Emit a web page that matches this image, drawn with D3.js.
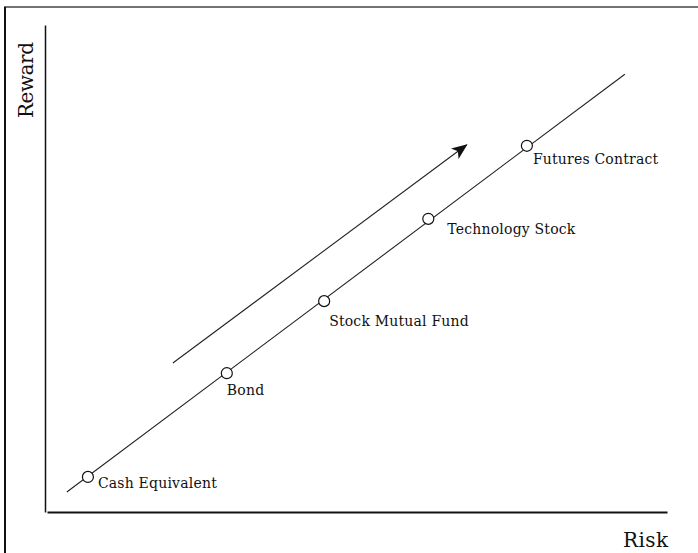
<!DOCTYPE html>
<html>
<head>
<meta charset="utf-8">
<script src="https://cdn.jsdelivr.net/npm/d3@7"></script>
<style>
  body { margin: 0; background: #fff; }
  svg { display: block; }
  text { font-family: "DejaVu Serif", "Liberation Serif", serif; fill: #111; }
</style>
</head>
<body>
<div id="chart"></div>
<script>
// risk / reward values on a 0-100 scale
let assets = ["Cash Equivalent", "Bond", "Stock Mutual Fund", "Technology Stock", "Futures Contract"];
let riskValues = [6.6, 29.0, 44.7, 61.5, 77.4];
let rewardValues = [7.2, 28.5, 43.3, 60.2, 75.2];

// the trend line and the arrow beside it
let lineRisk = [3.2, 93.2];
let lineReward = [4.1, 89.9];
let arrowRisk = [20.3, 67.7];
let arrowReward = [30.6, 75.4];

let axisLabels = ["Risk", "Reward"];

// label offsets from each point (px)
let labelOffset = {
  "Cash Equivalent": [10, 11],
  "Bond": [0, 22],
  "Stock Mutual Fund": [5, 25],
  "Technology Stock": [19, 15],
  "Futures Contract": [6, 18]
};

let width = 698, height = 553;

let svg = d3.select("#chart").append("svg")
        .attr("width", width)
        .attr("height", height);

let x = d3.scaleLinear().domain([0, 100]).range([47, 667]);
let y = d3.scaleLinear().domain([0, 100]).range([512, 25]);

//frame lines (top and left only)
svg.append("line")
    .attr("x1", 4).attr("x2", width)
    .attr("y1", 7).attr("y2", 7)
    .attr("stroke", "#444").attr("stroke-width", 1.5);
svg.append("line")
    .attr("x1", 5).attr("x2", 5)
    .attr("y1", 7).attr("y2", height)
    .attr("stroke", "#111").attr("stroke-width", 2);

//axes without ticks
let xAxis = svg.append("g")
    .attr("transform", "translate(0,512)")
    .call(d3.axisBottom(x).tickValues([]).tickSizeOuter(0));
xAxis.select(".domain").attr("stroke", "#111").attr("stroke-width", 2);

let yAxis = svg.append("g")
    .attr("transform", "translate(45,0)")
    .call(d3.axisLeft(y).tickValues([]).tickSizeOuter(0));
yAxis.select(".domain").attr("stroke", "#111").attr("stroke-width", 1.5);

svg.append("text")
    .text(axisLabels[0])
    .attr("x", 623).attr("y", 547)
    .attr("textLength", 45)
    .style("font-size", "20px");

svg.append("text")
    .text(axisLabels[1])
    .attr("transform", "translate(33,118) rotate(-90)")
    .attr("textLength", 76)
    .style("font-size", "20px");

//arrow marker
svg.append("defs").append("marker")
    .attr("id", "arrowhead")
    .attr("markerUnits", "userSpaceOnUse")
    .attr("viewBox", "0 0 16 13")
    .attr("refX", 15).attr("refY", 6.5)
    .attr("markerWidth", 16).attr("markerHeight", 13)
    .attr("orient", "auto")
  .append("path")
    .attr("d", "M0,0 L16,6.5 L0,13 L4,6.5 Z")
    .attr("fill", "#111");

let lineMap = d3.line()
    .x(function(d) { return x(d[0]); })
    .y(function(d) { return y(d[1]); });

svg.append("path")
    .attr("d", lineMap(d3.zip(lineRisk, lineReward)))
    .attr("fill", "none")
    .attr("stroke", "#222")
    .attr("stroke-width", 1.1);

svg.append("path")
    .attr("d", lineMap(d3.zip(arrowRisk, arrowReward)))
    .attr("fill", "none")
    .attr("stroke", "#222")
    .attr("stroke-width", 1.1)
    .attr("marker-end", "url(#arrowhead)");

let points = assets.map(function(name, i) {
  return {name: name, risk: riskValues[i], reward: rewardValues[i]};
});

let dots = svg.selectAll("g.asset")
    .data(points)
    .enter()
    .append("g")
      .attr("class", "asset");

dots.append("circle")
    .attr("cx", function(d) { return x(d.risk); })
    .attr("cy", function(d) { return y(d.reward); })
    .attr("r", 5.5)
    .attr("fill", "#fff")
    .attr("stroke", "#111")
    .attr("stroke-width", 1.2);

dots.append("text")
    .text(function(d) { return d.name; })
    .attr("x", function(d) { return x(d.risk) + labelOffset[d.name][0]; })
    .attr("y", function(d) { return y(d.reward) + labelOffset[d.name][1]; })
    .style("font-size", "14px")
    .style("letter-spacing", "0.2px");
</script>
</body>
</html>
